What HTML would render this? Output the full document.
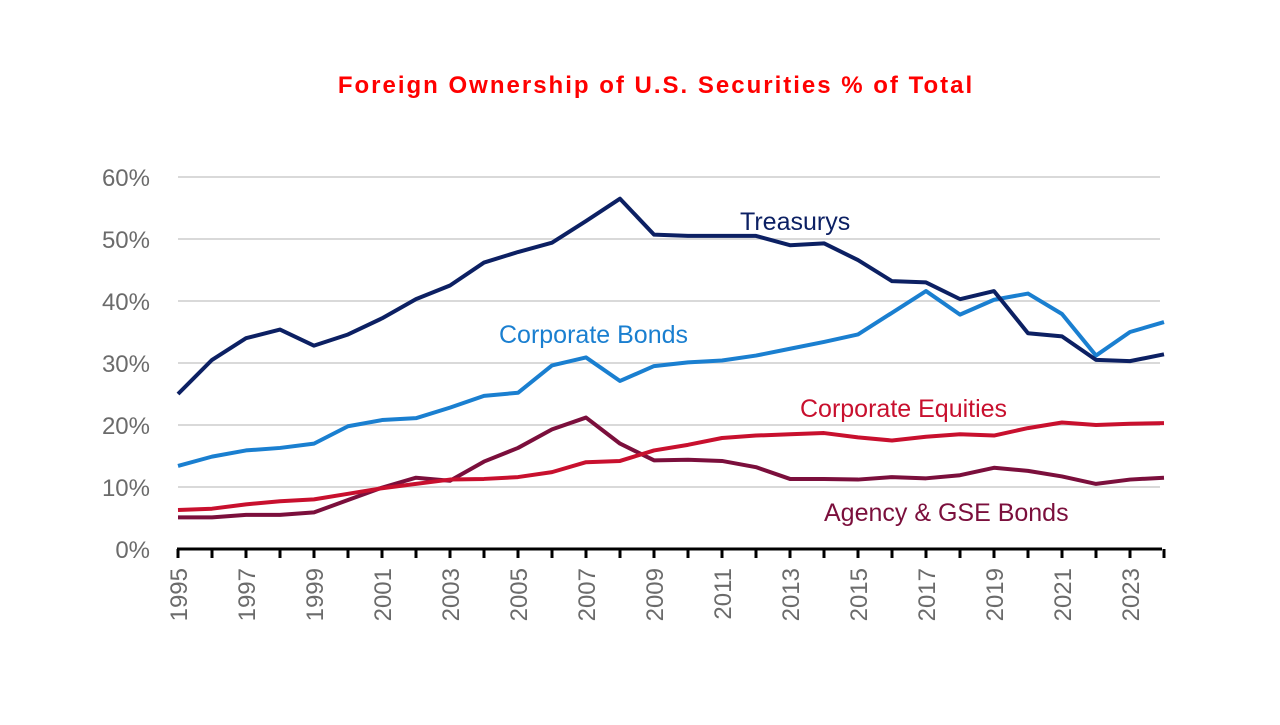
<!DOCTYPE html>
<html><head><meta charset="utf-8"><style>
body{margin:0;background:#fff;}
svg text{font-family:"Liberation Sans",sans-serif;}
</style></head><body>
<svg width="1280" height="720" viewBox="0 0 1280 720" xmlns="http://www.w3.org/2000/svg">
<text x="656" y="93" text-anchor="middle" font-size="24" font-weight="bold" letter-spacing="2" fill="#ff0000">Foreign Ownership of U.S. Securities % of Total</text>
<g id="grid"></g><g id="lines"></g><g id="axis"></g><g id="labels"></g>
</svg>
<script>
const years=[];for(let y=1995;y<=2024;y++)years.push(y);
const yTicks=[0,10,20,30,40,50,60];
const treasurys=[25,30.5,34,35.4,32.8,34.6,37.2,40.3,42.5,46.2,47.9,49.4,52.9,56.5,50.7,50.5,50.5,50.5,49,49.3,46.6,43.2,43,40.3,41.6,34.8,34.3,30.5,30.3,31.4];
const corpBonds=[13.4,14.9,15.9,16.3,17,19.8,20.8,21.1,22.8,24.7,25.2,29.6,30.9,27.1,29.5,30.1,30.4,31.2,32.3,33.4,34.6,38.1,41.6,37.8,40.2,41.2,37.9,31.2,35,36.6];
const corpEquities=[6.3,6.5,7.2,7.7,8,8.9,9.8,10.5,11.2,11.3,11.6,12.4,14,14.2,15.9,16.8,17.9,18.3,18.5,18.7,18,17.5,18.1,18.5,18.3,19.5,20.4,20,20.2,20.3];
const agency=[5.1,5.1,5.5,5.5,5.9,7.9,9.9,11.5,11,14.1,16.3,19.3,21.2,17,14.3,14.4,14.2,13.2,11.3,11.3,11.2,11.6,11.4,11.9,13.1,12.6,11.7,10.5,11.2,11.5];
const NS='http://www.w3.org/2000/svg';
const x=yr=>178+(yr-1995)*34;
const y=v=>549-v*6.2;
function mk(tag,attrs,parent){const e=document.createElementNS(NS,tag);for(const k in attrs)e.setAttribute(k,attrs[k]);document.getElementById(parent).appendChild(e);return e;}
yTicks.forEach(t=>{
 if(t>0){const g=mk('line',{x1:178,x2:1160,y1:y(t),y2:y(t),stroke:'#d9d9d9','stroke-width':2},'grid');
 
 }
 const l=mk('text',{x:150,y:y(t)+9,'text-anchor':'end','font-size':24,fill:'#6b6b6b'},'labels');l.textContent=t+'%';
 
 
});
const series=[[agency,'#7b0f3c','agency-gse-bonds-line'],[corpEquities,'#c8102e','corporate-equities-line'],[corpBonds,'#1a7fd0','corporate-bonds-line'],[treasurys,'#0c2063','treasurys-line']];
series.forEach(([d,c,n])=>{
 const p=mk('polyline',{points:d.map((v,i)=>x(years[i])+','+y(v)).join(' '),fill:'none',stroke:c,'stroke-width':4,'stroke-linejoin':'round'},'lines');
 
 
});
const ax=mk('line',{x1:177,x2:1162,y1:549,y2:549,stroke:'#000','stroke-width':3},'axis');


years.forEach((yr,i)=>{
 const t=mk('line',{x1:x(yr),x2:x(yr),y1:549,y2:558,stroke:'#000','stroke-width':3},'axis');
 
 
 if(i%2===0){const l=mk('text',{x:0,y:0,'text-anchor':'end','font-size':24,fill:'#6b6b6b',transform:'translate('+(x(yr)+9)+',568) rotate(-90)'},'labels');l.textContent=yr;
 
 }
});
const labs=[['Treasurys',740,230,'#0c2063','treasurys-label'],['Corporate Bonds',499,343,'#1a7fd0','corporate-bonds-label'],['Corporate Equities',800,417,'#c8102e','corporate-equities-label'],['Agency & GSE Bonds',824,521,'#7b0f3c','agency-label']];
labs.forEach(([s,lx,ly,c,n])=>{const l=mk('text',{x:lx,y:ly,'font-size':25,fill:c},'labels');l.textContent=s;
 
 });
</script>
</body></html>
